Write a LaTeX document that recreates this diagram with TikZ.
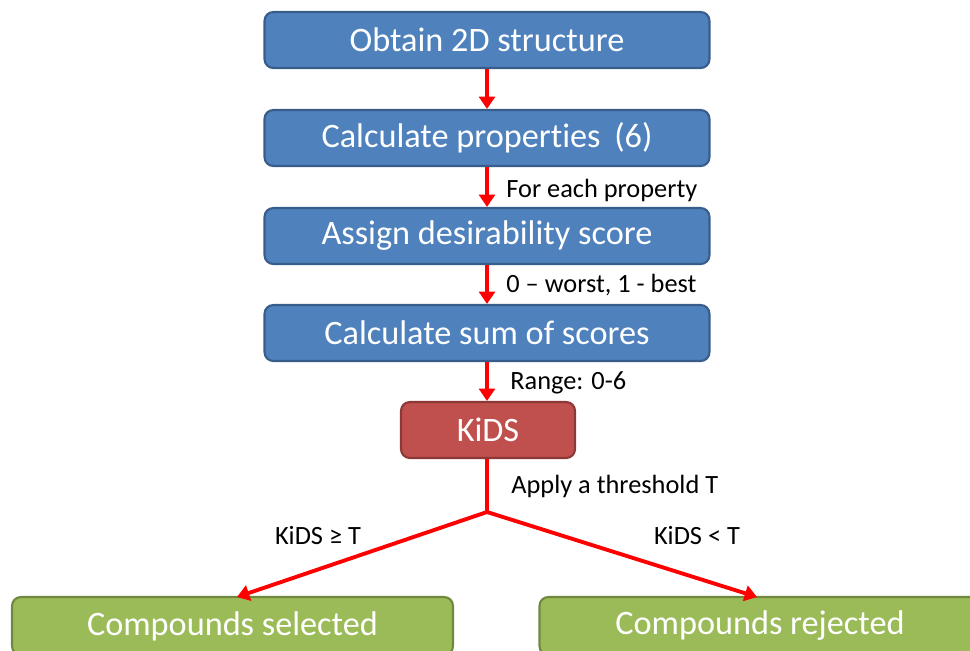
\documentclass[tikz,border=0pt]{standalone}
\usepackage{fontspec}
\setmainfont{Carlito}[Ligatures={NoCommon}]
\usetikzlibrary{arrows.meta}
\definecolor{boxblue}{HTML}{4F81BD}
\definecolor{boxblueedge}{HTML}{385D8A}
\definecolor{boxred}{HTML}{C0504D}
\definecolor{boxrededge}{HTML}{8C3836}
\definecolor{boxgreen}{HTML}{9BBB59}
\definecolor{boxgreenedge}{HTML}{71893F}
\tikzset{
  stepbox/.style={draw=boxblueedge, fill=boxblue, line width=1.2pt, rounded corners=5pt,
    text=white, font=\fontsize{19.5}{22}\selectfont, minimum width=8.9cm, minimum height=1.12cm,
    inner sep=0pt},
  scorebox/.style={stepbox, draw=boxrededge, fill=boxred, minimum width=3.48cm},
  resultbox/.style={stepbox, draw=boxgreenedge, fill=boxgreen, minimum width=8.82cm, minimum height=1.16cm},
  flow/.style={draw=red, line width=2.2pt, -{Triangle[length=7pt, width=9pt]}},
  note/.style={font=\fontsize{15}{17}\selectfont, anchor=west, inner sep=0pt},
}
\begin{document}
\begin{tikzpicture}[x=0.02cm, y=-0.02cm]
  \useasboundingbox (0,0) rectangle (970,650);
  \clip (0,0) rectangle (970,650);

  \node[stepbox] (obtain) at (487,40) {Obtain 2D structure};
  \node[stepbox] (props) at (487,138) {Calculate properties\hspace{0.4em}(6)};
  \node[stepbox] (assign) at (487,236) {Assign desirability score};
  \node[stepbox] (sum) at (487,333) {Calculate sum of scores};
  \node[scorebox] (kids) at (488,430) {KiDS};
  \node[resultbox] (selected) at (232.5,626) {Compounds selected};
  \node[resultbox] (rejected) at (760,626) {Compounds rejected};
  \coordinate (split) at (487,512);
  \coordinate (selin) at (237,597);
  \coordinate (rejin) at (757,597);

  \draw[flow] (obtain) -- (props);
  \draw[flow] (props) -- (assign);
  \draw[flow] (assign) -- (sum);
  \draw[flow] (sum) -- (kids.north -| sum);
  \draw[draw=red, line width=2.2pt] (kids.south -| split) -- (split);
  \draw[flow] (split) -- (selin);
  \draw[flow] (split) -- (rejin);

  \node[note] (n1) at (506,190) {For each property};
  \node[note] (n2) at (506,285) {0 -- worst, 1 - best};
  \node[note] (n3) at (510,383) {Range: 0-6};
  \node[note] (n4) at (511,486) {Apply a threshold T};
  \node[note, anchor=center] (n5) at (318,536) {KiDS ≥ T};
  \node[note, anchor=center] (n6) at (697,536) {KiDS < T};
\end{tikzpicture}
\end{document}
